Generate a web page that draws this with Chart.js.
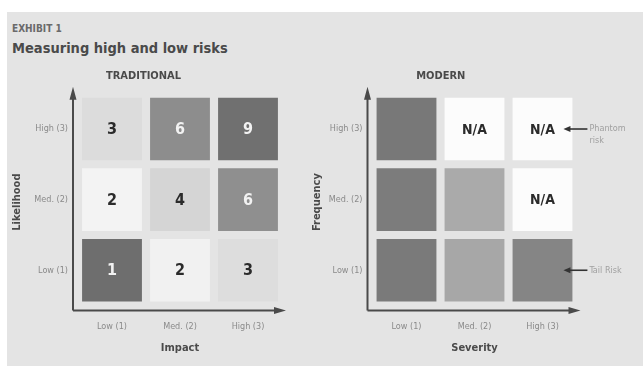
<!DOCTYPE html>
<html>
<head>
<meta charset="utf-8">
<script src="https://cdn.jsdelivr.net/npm/chart.js@4.4.1/dist/chart.umd.min.js"></script>
<style>
  html, body { margin: 0; padding: 0; background: #fff; }
  #page { position: relative; width: 643px; height: 366px; overflow: hidden; background: #fff; }
  #panel { position: absolute; left: 7px; top: 12px; right: 0; bottom: 0; background: #e4e4e4; }
  .txt { position: absolute; font-family: "DejaVu Sans Condensed", "Liberation Sans Narrow", sans-serif; font-weight: bold; white-space: nowrap; }
  #exhibit { left: 12px; top: 23px; font-size: 10px; color: #6a6a6a; }
  #headline { left: 12px; top: 40px; font-size: 14.5px; color: #4a4a4a; }
  .box { position: absolute; top: 60px; height: 306px; }
  #left { left: 0; width: 300px; }
  #right { left: 300px; width: 343px; }
</style>
</head>
<body>
<div id="page">
  <div id="panel"></div>
  <div class="txt" id="exhibit">EXHIBIT 1</div>
  <div class="txt" id="headline">Measuring high and low risks</div>
  <div class="box" id="left"><canvas id="tradChart" width="300" height="306"></canvas></div>
  <div class="box" id="right"><canvas id="modChart" width="343" height="306"></canvas></div>
</div>
<script>
// axis categories (1..3)
const levels = ['Low (1)', 'Med. (2)', 'High (3)'];

// traditional matrix: scores by likelihood row (low, med, high) x impact column
const tradLow = ['1', '2', '3'];
const tradMed = ['2', '4', '6'];
const tradHigh = ['3', '6', '9'];

// modern matrix: text by frequency row x severity column
const modLow = ['', '', ''];
const modMed = ['', '', 'N/A'];
const modHigh = ['', 'N/A', 'N/A'];

// cell shading (styles)
const tradFill = [
  ['#6e6e6e', '#f1f1f1', '#dddddd'],
  ['#f3f3f3', '#d5d5d5', '#8f8f8f'],
  ['#dcdcdc', '#8d8d8d', '#707070']
];
const modFill = [
  ['#7a7a7a', '#a7a7a7', '#858585'],
  ['#7c7c7c', '#aaaaaa', '#fcfcfc'],
  ['#787878', '#fcfcfc', '#fcfcfc']
];

const FONT = '"DejaVu Sans Condensed", "Liberation Sans Narrow", sans-serif';
const HALF = 0.443;

function rowsToDatasets(rows, fills) {
  return rows.map((texts, r) => ({
    data: levels.map(() => [r + 1 - HALF, r + 1 + HALF]),
    backgroundColor: fills[r],
    cellText: texts,
    textColor: fills[r].map(c => parseInt(c.slice(1, 3), 16) < 0xb0 ? '#f2f2f2' : '#2b2b2b'),
    borderWidth: 0,
    grouped: false,
    barPercentage: 1,
    categoryPercentage: 0.88
  }));
}

const matrixDecor = {
  id: 'matrixDecor',
  afterDatasetsDraw(chart, args, opts) {
    const ctx = chart.ctx;
    const a = chart.chartArea;
    ctx.save();
    // numbers / N/A inside cells
    ctx.textAlign = 'center';
    ctx.textBaseline = 'middle';
    ctx.font = 'bold ' + opts.cellFont + 'px ' + FONT;
    chart.data.datasets.forEach((ds, i) => {
      chart.getDatasetMeta(i).data.forEach((bar, j) => {
        const t = ds.cellText[j];
        if (!t) return;
        const p = bar.getCenterPoint();
        ctx.fillStyle = ds.textColor[j];
        ctx.fillText(t, p.x, p.y + 1);
      });
    });
    // arrow axes
    const x0 = a.left - 5;
    const y0 = a.bottom;
    ctx.strokeStyle = '#4a4a4a';
    ctx.fillStyle = '#4a4a4a';
    ctx.lineWidth = 2;
    ctx.beginPath();
    ctx.moveTo(x0, y0);
    ctx.lineTo(x0, a.top + 4);
    ctx.moveTo(x0, y0);
    ctx.lineTo(a.right - 2, y0);
    ctx.stroke();
    ctx.beginPath();
    ctx.moveTo(x0, a.top - 7);
    ctx.lineTo(x0 - 3.5, a.top + 6);
    ctx.lineTo(x0 + 3.5, a.top + 6);
    ctx.closePath();
    ctx.moveTo(a.right + 4, y0);
    ctx.lineTo(a.right - 8, y0 - 3.5);
    ctx.lineTo(a.right - 8, y0 + 3.5);
    ctx.closePath();
    ctx.fill();
    // side notes with arrows
    (opts.notes || []).forEach(n => {
      const bar = chart.getDatasetMeta(n.row).data[n.col];
      const p = bar.getCenterPoint();
      const right = bar.x + bar.width / 2;
      ctx.strokeStyle = '#333';
      ctx.fillStyle = '#333';
      ctx.lineWidth = 1.6;
      ctx.beginPath();
      ctx.moveTo(right - 4, p.y);
      ctx.lineTo(right + 15, p.y);
      ctx.stroke();
      ctx.beginPath();
      ctx.moveTo(right - 9, p.y);
      ctx.lineTo(right - 2, p.y - 3);
      ctx.lineTo(right - 2, p.y + 3);
      ctx.closePath();
      ctx.fill();
      ctx.fillStyle = '#a0a0a0';
      ctx.font = '9px ' + FONT;
      ctx.textAlign = 'left';
      n.lines.forEach((l, k) => ctx.fillText(l, right + 17, p.y + k * 12));
    });
    ctx.restore();
  }
};

function makeMatrix(id, heading, xName, yName, rows, fills, padRight, notes) {
  new Chart(document.getElementById(id), {
    type: 'bar',
    data: { labels: levels, datasets: rowsToDatasets(rows, fills) },
    plugins: [matrixDecor],
    options: {
      responsive: false,
      animation: false,
      layout: { padding: { left: 5, right: padRight, top: 0, bottom: 0 } },
      plugins: {
        legend: { display: false },
        tooltip: { enabled: false },
        title: {
          display: true, text: heading, color: '#4a4a4a',
          font: { family: FONT, size: 11, weight: 'bold' },
          padding: { top: 10, bottom: 10.5 }
        },
        matrixDecor: { cellFont: heading === 'MODERN' ? 14 : 16, notes: notes }
      },
      scales: {
        x: {
          type: 'category',
          grid: { display: false, drawTicks: false },
          border: { display: false },
          afterFit: s => { s.height = 55.5; },
          ticks: { color: '#8a8a8a', font: { family: FONT, size: 9 }, padding: 11 },
          title: { display: true, text: xName, color: '#4a4a4a', font: { family: FONT, size: 11, weight: 'bold' }, padding: { top: 9, bottom: 11 } }
        },
        y: {
          type: 'linear', min: 0.43, max: 3.5,
          grid: { display: false, drawTicks: false },
          border: { display: false },
          afterBuildTicks: s => { s.ticks = [1, 2, 3].map(v => ({ value: v })); },
          afterFit: s => { s.width = id === 'tradChart' ? 73 : 67.5; },
          ticks: {
            color: '#8a8a8a', font: { family: FONT, size: 9 }, padding: 10,
            callback: v => levels[v - 1]
          },
          title: { display: true, text: yName, color: '#4a4a4a', font: { family: FONT, size: 11, weight: 'bold' }, padding: { top: 6, bottom: 0 } }
        }
      }
    }
  });
}

makeMatrix('tradChart', 'TRADITIONAL', 'Impact', 'Likelihood',
  [tradLow, tradMed, tradHigh], tradFill, 18, []);
makeMatrix('modChart', 'MODERN', 'Severity', 'Frequency',
  [modLow, modMed, modHigh], modFill, 66.5,
  [{ row: 2, col: 2, lines: ['Phantom', 'risk'] }, { row: 0, col: 2, lines: ['Tail Risk'] }]);
</script>
</body>
</html>
